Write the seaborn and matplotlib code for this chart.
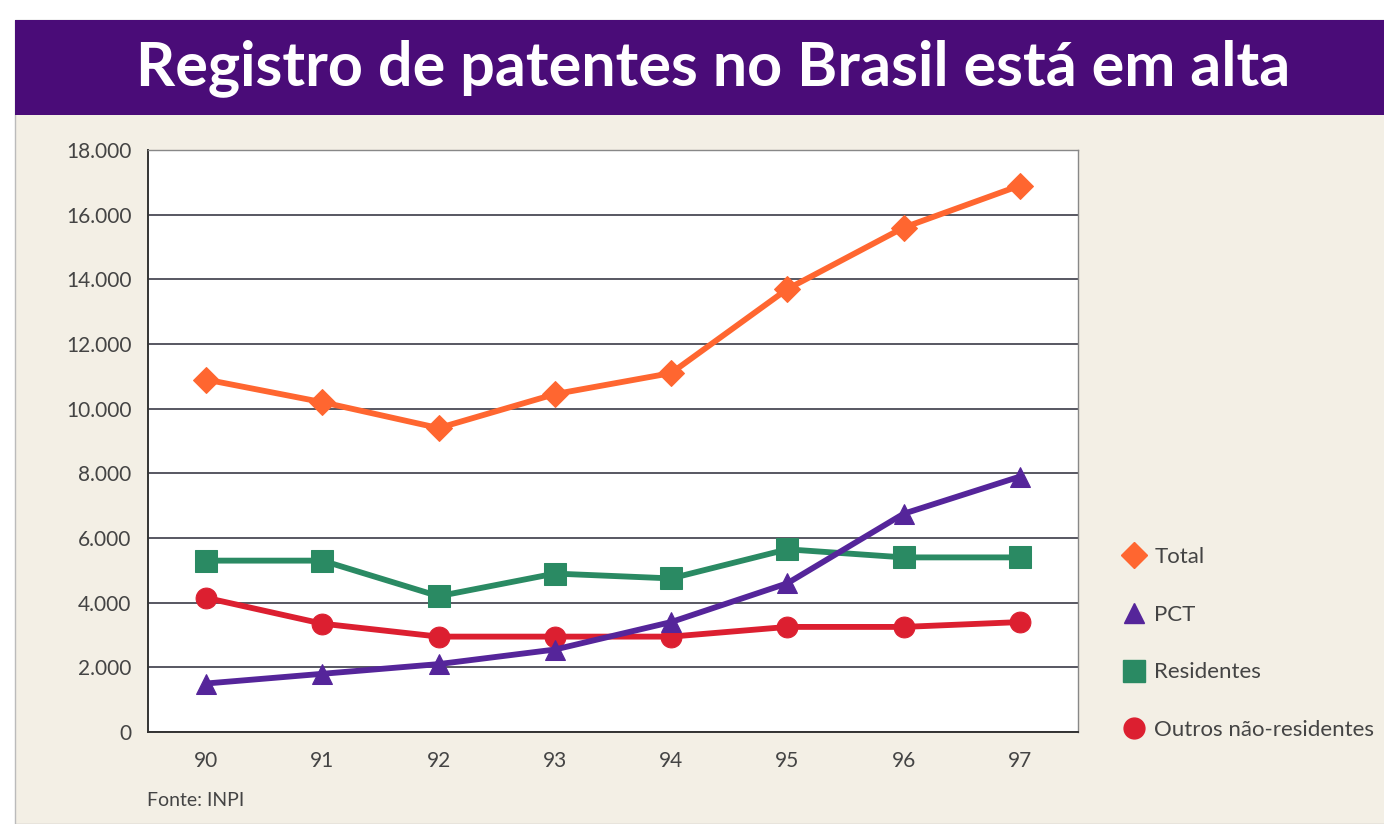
import pandas as pd
import seaborn as sns
from matplotlib import pyplot as plt
from matplotlib.lines import Line2D
from matplotlib.patches import Rectangle

ANOS = ['90', '91', '92', '93', '94', '95', '96', '97']
TOTAL = [10900, 10200, 9400, 10450, 11100, 13700, 15600, 16900]
PCT = [1500, 1800, 2100, 2550, 3400, 4600, 6750, 7900]
RESIDENTES = [5300, 5300, 4200, 4900, 4750, 5650, 5400, 5400]
OUTROS = [4150, 3350, 2950, 2950, 2950, 3250, 3250, 3400]
Y_TICKS = [0, 2000, 4000, 6000, 8000, 10000, 12000, 14000, 16000, 18000]
Y_LABELS = ['0', '2.000', '4.000', '6.000', '8.000', '10.000', '12.000',
            '14.000', '16.000', '18.000']

SERIES = [
    # nome, valores, cor, marcador, tamanho
    ('Outros não-residentes', OUTROS, '#dc1f30', 'o', 15),
    ('Residentes', RESIDENTES, '#2a8a63', 's', 16),
    ('PCT', PCT, '#55259a', '^', 15),
    ('Total', TOTAL, '#ff6630', 'D', 13),
]
LEGEND_ORDER = ['Total', 'PCT', 'Residentes', 'Outros não-residentes']

FUNDO = '#f3efe5'
ROXO = '#4a0c78'
TEXTO = '#444444'


def main():
    sns.set_style('white')
    plt.rcParams['font.family'] = ['Lato', 'DejaVu Sans']

    fig = plt.figure(figsize=(13.84, 8.24), dpi=100)
    fig.patch.set_facecolor('white')

    # fundo creme e faixa do título
    fig.patches.append(Rectangle((15 / 1384, 0), 1, 1 - 20 / 824,
                                 transform=fig.transFigure, facecolor=FUNDO,
                                 edgecolor='#bbbbbb', lw=1, zorder=-2))
    fig.patches.append(Rectangle((15 / 1384, 1 - 115 / 824), 1, 95 / 824,
                                 transform=fig.transFigure, facecolor=ROXO,
                                 edgecolor='none', zorder=-1))
    fig.text(0.515, 1 - 68 / 824, 'Registro de patentes no Brasil está em alta',
             ha='center', va='center', color='white', fontsize=44,
             fontweight='bold')

    ax = fig.add_axes([148 / 1384, 1 - 732 / 824, 930 / 1384, 582 / 824])
    ax.set_facecolor('white')
    ax.set_zorder(2)

    for nome, valores, cor, marcador, ms in SERIES:
        df = pd.DataFrame({'ano': ANOS, 'valor': valores})
        sns.lineplot(data=df, x='ano', y='valor', ax=ax, color=cor, lw=4.2,
                     marker=marcador, markersize=ms, markeredgecolor=cor,
                     label=nome, legend=False)

    ax.set_xlim(-0.5, 7.5)
    ax.set_ylim(0, 18000)
    ax.set_yticks(Y_TICKS)
    ax.set_yticklabels(Y_LABELS)
    ax.set_xticks(range(len(ANOS)))
    ax.set_xticklabels(ANOS)
    ax.set_xticks([i - 0.5 for i in range(len(ANOS) + 1)], minor=True)
    ax.tick_params(axis='x', which='major', length=0, pad=14,
                   labelsize=15, labelcolor=TEXTO)
    ax.tick_params(axis='x', which='minor', length=7, width=1.2,
                   color='#333333', direction='inout')
    ax.tick_params(axis='y', length=8, width=1.2, color='#333333',
                   direction='out', labelsize=15, labelcolor=TEXTO, pad=4)
    ax.set_xlabel('')
    ax.set_ylabel('')

    ax.grid(axis='y', color='#4a4a55', lw=1.3)
    ax.set_axisbelow(True)
    for lado in ['left', 'bottom']:
        ax.spines[lado].set_color('#333333')
        ax.spines[lado].set_linewidth(1.4)
    for lado in ['top', 'right']:
        ax.spines[lado].set_color('#888888')
        ax.spines[lado].set_linewidth(1.0)

    cores = {s[0]: s for s in SERIES}
    handles = []
    for nome in LEGEND_ORDER:
        _, _, cor, marcador, ms = cores[nome]
        handles.append(Line2D([], [], ls='none', marker=marcador, color=cor,
                              markersize=ms))
    fig.legend(handles, LEGEND_ORDER, loc='upper left',
               bbox_to_anchor=(1112 / 1384, 1 - 538 / 824), frameon=False,
               fontsize=16, labelcolor=TEXTO, labelspacing=1.7,
               handletextpad=0.3, handlelength=1.2, borderaxespad=0)

    fig.text(147 / 1384, 1 - 800 / 824, 'Fonte: INPI', ha='left',
             va='center', fontsize=14, color=TEXTO)

    fig.savefig('out.png', dpi=100, facecolor=fig.get_facecolor())


if __name__ == '__main__':
    main()
